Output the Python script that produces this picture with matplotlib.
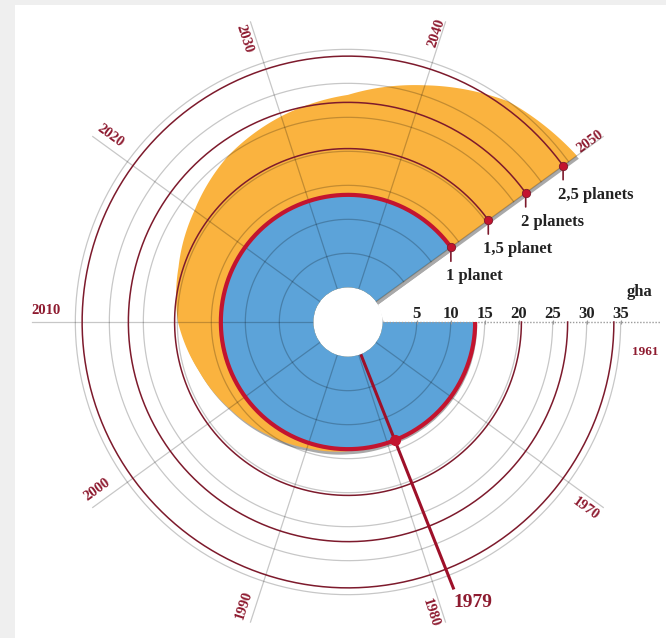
import numpy as np
import matplotlib
matplotlib.use("Agg")
import matplotlib.pyplot as plt
from matplotlib.path import Path
from matplotlib.patches import PathPatch, Rectangle
from matplotlib.transforms import Affine2D

# ---------------- data ----------------
decade_years = [1970, 1980, 1990, 2000, 2010, 2020, 2030, 2040, 2050]
gha_ticks = [5, 10, 15, 20, 25, 30, 35]
planet_levels = [1, 1.5, 2, 2.5]
planet_labels = ["1 planet", "1,5 planet", "2 planets", "2,5 planets"]
gha_per_planet = 13.6          # biocapacity of one Earth (billion gha)
first_year, last_year = 1961, 2050
footprint_years = [1961, 1965, 1970, 1975, 1979, 1985, 1990, 1995, 2000,
                   2005, 2010, 2015, 2020, 2025, 2030, 2035, 2040, 2045, 2050]
footprint_gha = [9.5, 10.5, 12.0, 12.9, 13.6, 13.9, 14.4, 15.3, 16.5,
                 18.0, 19.9, 21.1, 22.8, 25.0, 26.7, 28.3, 31.5, 35.0, 36.5]
overshoot_year = 1979

# ---------------- styling ----------------
BLUE = "#5ca3d9"
ORANGE = "#fab33f"
RED = "#c3142f"
DARKRED = "#7d1a2c"
LABELRED = "#8e1b30"
SERIF = ["Liberation Serif", "DejaVu Serif"]
plt.rcParams["font.family"] = SERIF
plt.rcParams["font.weight"] = "bold"

DEG_PER_YEAR = 3.6
HOLE = 5.1        # empty centre, in gha units
RMAX = 48.0


def theta(year):
    return np.deg2rad((np.asarray(year, dtype=float) - 1960) * DEG_PER_YEAR)


W, H = 666, 638
fig = plt.figure(figsize=(W / 100, H / 100), dpi=100, facecolor="#efefef")
fig.patches.append(Rectangle((15 / W, 0), 1, (H - 5) / H, transform=fig.transFigure,
                             facecolor="white", edgecolor="none", zorder=-10))

cx, cy = 348, H - 322
rad_px = (RMAX + HOLE) * 6.8
ax = fig.add_axes([(cx - rad_px) / W, (cy - rad_px) / H, 2 * rad_px / W, 2 * rad_px / H],
                  projection="polar")
ax.set_theta_zero_location("E")
ax.set_theta_direction(-1)
ax.set_rorigin(-HOLE)
ax.set_ylim(0, RMAX)
ax.axis("off")

t0, t1 = theta(1960), theta(last_year)


def region(verts):
    codes = [Path.MOVETO] + [Path.LINETO] * (len(verts) - 1) + [Path.CLOSEPOLY]
    return Path(list(verts) + [verts[0]], codes, _interpolation_steps=40)


# footprint (orange) and biocapacity (blue) areas
fp_verts = list(zip(theta(footprint_years), footprint_gha))
fp_verts += [(theta(footprint_years[-1]), 0.0), (theta(footprint_years[0]), 0.0)]
fp_path = region(fp_verts)
bio_path = region([(t0, 0.0), (t0, gha_per_planet), (t1, gha_per_planet), (t1, 0.0)])

shadow = ax.transData + Affine2D().translate(2, -3)
for p in (fp_path, bio_path):
    ax.add_patch(PathPatch(p, facecolor="#a9a9a9", edgecolor="none", transform=shadow, zorder=1))
ax.add_patch(PathPatch(fp_path, facecolor=ORANGE, edgecolor="none", zorder=2))
ax.add_patch(PathPatch(bio_path, facecolor=BLUE, edgecolor="none", zorder=3))

# grid: gha circles and decade spokes
arc_t = np.linspace(t0, t1, 500)
for v in gha_ticks:
    ax.plot(arc_t, np.full_like(arc_t, v), color="black", alpha=0.22, lw=0.9, zorder=4)
for y in decade_years:
    ax.plot([theta(y)] * 2, [0, 41.3], color="black", alpha=0.22, lw=0.9, zorder=4)

# planet circles
for p in planet_levels[1:]:
    ax.plot(arc_t, np.full_like(arc_t, p * gha_per_planet), color=DARKRED, lw=1.1, zorder=5)
ax.plot(arc_t, np.full_like(arc_t, gha_per_planet), color=RED, lw=3.0, zorder=6,
        solid_capstyle="butt")

# gha axis along 1960
ax.plot([t0, t0], [0, 40.8], color="#9a9a9a", lw=1.0, ls=(0, (1, 1.2)), zorder=4,
        clip_on=False)
ax.plot([t0] * len(gha_ticks), gha_ticks, ls="none", marker="|", ms=3, mew=0.8,
        color="#9a9a9a", clip_on=False, zorder=4)
for v in gha_ticks:
    ax.annotate(str(v), xy=(t0, v), xytext=(0, 4), textcoords="offset pixels",
                ha="center", va="baseline", fontsize=12, color="#222222",
                annotation_clip=False)
ax.annotate("gha", xy=(t0, 37.8), xytext=(0, 26), textcoords="offset pixels",
            ha="center", va="baseline", fontsize=12, color="#222222", annotation_clip=False)
ax.annotate("1961", xy=(t0, 38.6), xytext=(0, -30), textcoords="offset pixels",
            ha="center", va="center", fontsize=9.5, color=LABELRED, annotation_clip=False)

# decade labels, set just beside their spokes
label_shift = {2030: -2.2, 2040: -1.0, 2050: -0.8}
for y in decade_years:
    tp = (y - 1960) * DEG_PER_YEAR
    phi = (-tp + 180) % 360 - 180
    rot = phi if -90 < phi <= 90 else phi + 180
    rot = (rot + 180) % 360 - 180
    ax.text(np.deg2rad(tp + label_shift.get(y, 2.2)), 39.3, str(y), rotation=rot,
            rotation_mode="anchor", ha="center", va="center", fontsize=10.5, color=LABELRED)

# planet markers on the 2050 edge
for p, lab in zip(planet_levels, planet_labels):
    r = p * gha_per_planet
    ax.annotate("", xy=(t1, r), xytext=(0, -14), textcoords="offset pixels",
                arrowprops=dict(arrowstyle="-", color=DARKRED, lw=1.2, shrinkA=0, shrinkB=0),
                zorder=8)
    ax.plot([t1], [r], "o", color=RED, mec=DARKRED, mew=0.6, ms=6, zorder=9)
    ax.annotate(lab, xy=(t1, r), xytext=(-5, -33), textcoords="offset pixels",
                ha="left", va="baseline", fontsize=12, color="#222222")

# overshoot year
to = theta(overshoot_year)
ax.plot([to, to], [0, 37.2], color="#9e1029", lw=2.2, zorder=7, solid_capstyle="butt")
ax.plot([to], [gha_per_planet], "o", color=RED, ms=7, zorder=9)
ax.annotate(str(overshoot_year), xy=(to, 37.2), xytext=(0, -5), textcoords="offset pixels",
            ha="left", va="top", fontsize=14, color=LABELRED)

fig.savefig("out.png", dpi=100, facecolor=fig.get_facecolor())
